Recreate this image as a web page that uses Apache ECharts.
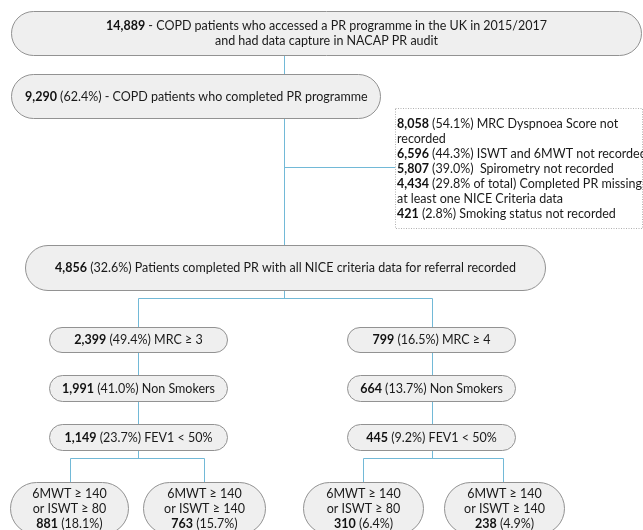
<!DOCTYPE html>
<html><head><meta charset="utf-8">
<script src="https://cdn.jsdelivr.net/npm/echarts@6/dist/echarts.min.js"></script>
<style>html,body{margin:0;padding:0;background:#fff}#c{width:643px;height:530px}</style>
</head><body><div id="c"></div>
<script>
// ---------------- data ----------------
const totalPatients = 14889;
const completedCount = 9290;
const completedPct = 62.4;
const missingCounts = [8058, 6596, 5807, 4434, 421];
const missingPcts = [54.1, 44.3, 39.0, 29.8, 2.8];
const missingPctSuffix = ['', '', '', ' of total', ''];
const missingTexts = ['MRC Dyspnoea Score not\nrecorded', 'ISWT and 6MWT not recorded', ' Spirometry not recorded', 'Completed PR missing\nat least one NICE Criteria data', 'Smoking status not recorded'];
const niceCount = 4856;
const nicePct = 32.6;
const mrcLabels = ['MRC ≥ 3', 'MRC ≥ 4'];
const mrcCounts = [2399, 799];
const mrcPcts = [49.4, 16.5];
const nonSmokerCounts = [1991, 664];
const nonSmokerPcts = [41.0, 13.7];
const fevCounts = [1149, 445];
const fevPcts = [23.7, 9.2];
const walkLabels = ['6MWT ≥ 140\nor ISWT ≥ 80', '6MWT ≥ 140\nor ISWT ≥ 140', '6MWT ≥ 140\nor ISWT ≥ 80', '6MWT ≥ 140\nor ISWT ≥ 140'];
const walkCounts = [881, 763, 310, 238];
const walkPcts = [18.1, 15.7, 6.4, 4.9];

// ---------------- helpers ----------------
const fmt = n => n.toLocaleString('en-US');
const pc = p => p.toFixed(1) + '%';
const B = n => '{b|' + fmt(n) + '}';

// ---------------- layout (pixel space of a hidden 643x530 grid) ----------------
const FONT = 'Lato';
const FS = 12.5;
const LINE = '#72b9d7';
const STROKE = '#929292';
const FILL = '#efefef';

const boxes = [];
boxes.push({r:[11,11,641,55], align:'center',
  text: B(totalPatients) + ' - COPD patients who accessed a PR programme in the UK in 2015/2017\nand had data capture in NACAP PR audit'});
boxes.push({r:[11,74,380,118], align:'left', tx:25,
  text: B(completedCount) + ' (' + pc(completedPct) + ') - COPD patients who completed PR programme'});
boxes.push({r:[395,108,642,228], align:'left', tx:397, top:116, dotted:true,
  text: missingCounts.map((c,i)=>B(c)+' ('+pc(missingPcts[i])+missingPctSuffix[i]+') '+missingTexts[i]).join('\n')});
boxes.push({r:[25,245,545,290], align:'center',
  text: B(niceCount) + ' (' + pc(nicePct) + ') Patients completed PR with all NICE criteria data for referral recorded'});
const colX = [[49,227],[347,515]];
const rowY = [[327,352],[375,401],[424,450]];
[0,1].forEach(c=>{
  boxes.push({r:[colX[c][0],rowY[0][0],colX[c][1],rowY[0][1]], align:'center', text:B(mrcCounts[c])+' ('+pc(mrcPcts[c])+') '+mrcLabels[c]});
  boxes.push({r:[colX[c][0],rowY[1][0],colX[c][1],rowY[1][1]], align:'center', text:B(nonSmokerCounts[c])+' ('+pc(nonSmokerPcts[c])+') Non Smokers'});
  boxes.push({r:[colX[c][0],rowY[2][0],colX[c][1],rowY[2][1]], align:'center', text:B(fevCounts[c])+' ('+pc(fevPcts[c])+') FEV1 < 50%'});
});
const walkX = [[10,128],[143,265],[303,423],[444,564]];
walkCounts.forEach((c,i)=>{
  boxes.push({r:[walkX[i][0],482,walkX[i][1],534], align:'center', text: walkLabels[i] + '\n' + B(c) + ' (' + pc(walkPcts[i]) + ')'});
});

const connectors = [
  [[284,55],[284,74]],
  [[284,118],[284,245]],
  [[284,167],[395,167]],
  [[284,290],[284,298]],
  [[138,327],[138,298],[432,298],[432,327]],
  [[138,352],[138,375]], [[432,352],[432,375]],
  [[138,401],[138,424]], [[432,401],[432,424]],
  [[138,450],[138,458]], [[70,482],[70,458],[204,458],[204,482]],
  [[432,450],[432,458]], [[363,482],[363,458],[503,458],[503,482]]
];

const rich = {b:{fontWeight:'bold', fontFamily:FONT, fontSize:FS, fill:'#111', lineHeight:15}};

function renderBox(params, api){
  const b = boxes[params.dataIndex];
  const p1 = api.coord([b.r[0], b.r[1]]);
  const p2 = api.coord([b.r[2], b.r[3]]);
  const x = Math.round(p1[0])+0.5, y = Math.round(p1[1])+0.5;
  const w = Math.round(p2[0]-p1[0]), h = Math.round(p2[1]-p1[1]);
  const children = [{
    type:'rect',
    shape:{x:x, y:y, width:w, height:h, r: b.dotted ? 0 : h/2},
    style: b.dotted ? {fill:'#fff', stroke:'#b0b0b0', lineWidth:1, lineDash:[1,1.5]} : {fill:FILL, stroke:STROKE, lineWidth:1}
  }];
  let tx, ty, va;
  if (b.align === 'center') { tx = x + w/2; ty = y + h/2; va = 'middle'; }
  else if (b.top != null) { tx = api.coord([b.tx, 0])[0]; ty = api.coord([0, b.top])[1]; va = 'top'; }
  else { tx = api.coord([b.tx, 0])[0]; ty = y + h/2; va = 'middle'; }
  children.push({
    type:'text',
    style:{
      text:b.text, x:tx, y:ty, align:b.align, verticalAlign:va,
      fontFamily:FONT, fontSize:FS, fill:'#1a1a1a', lineHeight:15, rich:rich
    }
  });
  return {type:'group', children:children};
}

function renderLine(params, api){
  const pts = connectors[params.dataIndex].map(p=>{
    const q = api.coord(p); return [Math.round(q[0])+0.5, Math.round(q[1])+0.5];
  });
  return {type:'polyline', shape:{points:pts}, style:{stroke:LINE, lineWidth:1, fill:null}};
}

const chart = echarts.init(document.getElementById('c'), null, {renderer:'canvas'});
chart.setOption({
  animation:false,
  backgroundColor:'#fff',
  grid:{left:0, right:0, top:0, bottom:0},
  xAxis:{type:'value', min:0, max:643, show:false},
  yAxis:{type:'value', min:0, max:530, inverse:true, show:false},
  series:[
    {type:'custom', renderItem:renderLine, clip:false, silent:true, z:1,
     data: connectors.map(c=>[c[0][0], c[0][1]])},
    {type:'custom', renderItem:renderBox, clip:false, silent:true, z:2,
     data: boxes.map(b=>[b.r[0], b.r[1]])}
  ]
});
</script></body></html>
